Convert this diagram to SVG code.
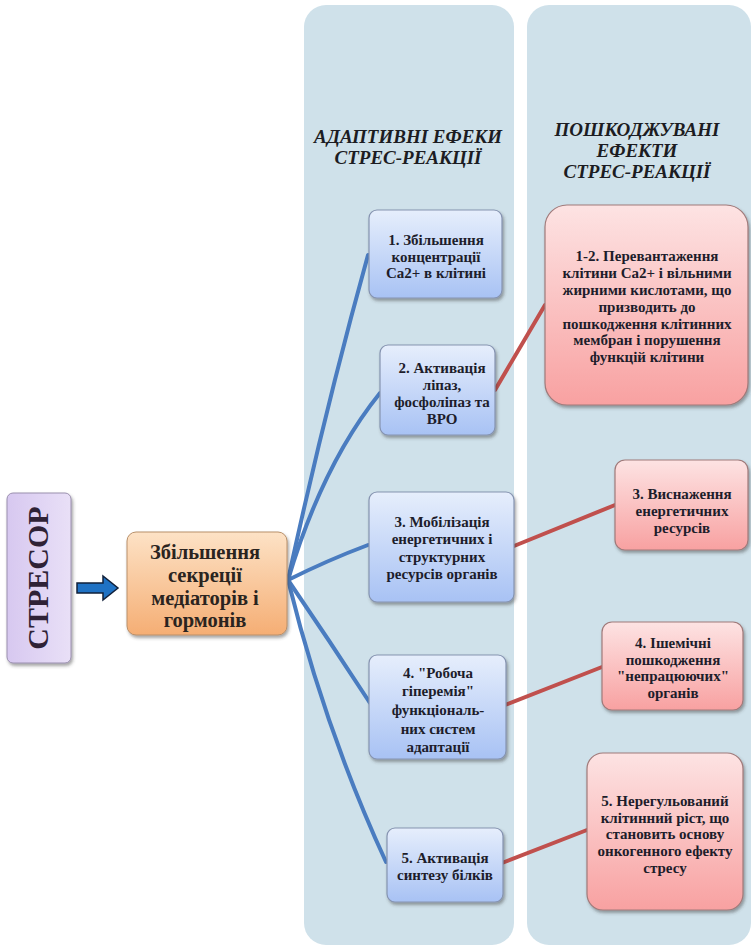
<svg xmlns="http://www.w3.org/2000/svg" width="751" height="946" viewBox="0 0 751 946">
  <defs>
    <linearGradient id="gBlue" x1="0" y1="0" x2="0" y2="1">
      <stop offset="0" stop-color="#e6eefc"/>
      <stop offset="1" stop-color="#a8c2f4"/>
    </linearGradient>
    <linearGradient id="gRed" x1="0" y1="0" x2="0" y2="1">
      <stop offset="0" stop-color="#fde3e3"/>
      <stop offset="1" stop-color="#f8a1a1"/>
    </linearGradient>
    <linearGradient id="gOrange" x1="0" y1="0" x2="0" y2="1">
      <stop offset="0" stop-color="#fde2c6"/>
      <stop offset="1" stop-color="#f5ae74"/>
    </linearGradient>
    <linearGradient id="gPurple" x1="0" y1="0" x2="1" y2="0">
      <stop offset="0" stop-color="#d7c8f0"/>
      <stop offset="1" stop-color="#e9e0f7"/>
    </linearGradient>
    <filter id="shadow" x="-10%" y="-10%" width="125%" height="130%">
      <feDropShadow dx="1.5" dy="2.5" stdDeviation="1.8" flood-color="#3a3a3a" flood-opacity="0.45"/>
    </filter>
  </defs>
  <style>
    .col { fill: #cfe1ea; }
    .title { font-weight: bold; font-style: italic; font-size: 19px; fill: #1c1c22; text-anchor: middle; }
    .txt { font-weight: bold; font-size: 15px; fill: #1d1d2b; text-anchor: middle; }
    .big { font-weight: bold; font-size: 20.5px; fill: #2a2420; text-anchor: middle; }
    .blue { fill: url(#gBlue); stroke: #8593b0; stroke-width: 1.2; filter: url(#shadow); }
    .red { fill: url(#gRed); stroke: #a07a7a; stroke-width: 1.2; filter: url(#shadow); }
    .blink { fill: none; stroke: #4a7cc0; stroke-width: 4; stroke-linecap: round; }
    .rlink { fill: none; stroke: #c0504d; stroke-width: 4; stroke-linecap: round; }
  </style>

  <rect width="751" height="946" fill="#ffffff"/>

  <g font-family="Liberation Serif, DejaVu Serif, serif">
  <!-- background columns -->
  <g id="column-adaptive">
    <rect class="col" x="304" y="5" width="210" height="940" rx="22"/>
    <text class="title" x="408" y="143">АДАПТИВНІ ЕФЕКИ</text>
    <text class="title" x="408" y="164">СТРЕС-РЕАКЦІЇ</text>
  </g>
  <g id="column-damaging">
    <rect class="col" x="527" y="5" width="224" height="940" rx="22"/>
    <text class="title" x="637" y="136">ПОШКОДЖУВАНІ</text>
    <text class="title" x="637" y="157">ЕФЕКТИ</text>
    <text class="title" x="637" y="178">СТРЕС-РЕАКЦІЇ</text>
  </g>

  <!-- connectors -->
  <g id="connectors">
    <path class="blink" d="M288,580 Q325,410 368,255"/>
    <path class="blink" d="M288,580 Q322,465 380,393"/>
    <path class="blink" d="M288,580 Q328,560 368,545"/>
    <path class="blink" d="M288,580 Q329,640 370,703"/>
    <path class="blink" d="M288,580 Q325,730 386,862"/>
    <path class="rlink" d="M495,390 L545,305"/>
    <path class="rlink" d="M514,546 L615,505"/>
    <path class="rlink" d="M505,705 L602,667"/>
    <path class="rlink" d="M502,863 L587,830"/>
    <!-- stressor arrow -->
    <path d="M77,583 L103,583 L103,576 L118,588 L103,600 L103,593 L77,593 Z" fill="#1f72c4" stroke="#10203a" stroke-width="1.5" stroke-linejoin="miter"/>
  </g>

  <!-- stressor -->
  <g id="stressor">
    <rect x="7" y="493" width="64" height="170" rx="6" fill="url(#gPurple)" stroke="#9a8fae" stroke-width="1" filter="url(#shadow)"/>
    <text transform="translate(48,578) rotate(-90)" text-anchor="middle" font-weight="bold" font-size="30" fill="#2f2236">СТРЕСОР</text>
  </g>

  <!-- central response -->
  <g id="secretion">
    <rect x="127" y="532" width="160" height="103" rx="9" fill="url(#gOrange)" stroke="#b9906a" stroke-width="1" filter="url(#shadow)"/>
    <text class="big" x="205" y="559">Збільшення</text>
    <text class="big" x="205" y="582">секреції</text>
    <text class="big" x="205" y="605">медіаторів і</text>
    <text class="big" x="205" y="627">гормонів</text>
  </g>

  <!-- adaptive effects -->
  <g id="adaptive-1">
    <rect class="blue" x="369" y="210" width="133" height="88" rx="8"/>
    <text class="txt" x="436" y="245">1. Збільшення</text>
    <text class="txt" x="436" y="262">концентрації</text>
    <text class="txt" x="436" y="278">Ca2+ в клітині</text>
  </g>
  <g id="adaptive-2">
    <rect class="blue" x="380" y="345" width="115" height="90" rx="8"/>
    <text class="txt" x="442" y="373">2. Активація</text>
    <text class="txt" x="442" y="390">ліпаз,</text>
    <text class="txt" x="442" y="407">фосфоліпаз та</text>
    <text class="txt" x="442" y="424">ВРО</text>
  </g>
  <g id="adaptive-3">
    <rect class="blue" x="369" y="492" width="145" height="110" rx="8"/>
    <text class="txt" x="442" y="527">3. Мобілізація</text>
    <text class="txt" x="442" y="544">енергетичних і</text>
    <text class="txt" x="442" y="562">структурних</text>
    <text class="txt" x="442" y="579">ресурсів органів</text>
  </g>
  <g id="adaptive-4">
    <rect class="blue" x="369" y="655" width="137" height="104" rx="8"/>
    <text class="txt" x="438" y="678">4. "Робоча</text>
    <text class="txt" x="438" y="696">гіперемія"</text>
    <text class="txt" x="438" y="715">функціональ-</text>
    <text class="txt" x="438" y="734">них систем</text>
    <text class="txt" x="438" y="752">адаптації</text>
  </g>
  <g id="adaptive-5">
    <rect class="blue" x="387" y="828" width="116" height="74" rx="8"/>
    <text class="txt" x="445" y="863">5. Активація</text>
    <text class="txt" x="445" y="880">синтезу білків</text>
  </g>

  <!-- damaging effects -->
  <g id="damage-1-2">
    <rect class="red" x="545" y="205" width="203" height="200" rx="22"/>
    <text class="txt" x="647" y="261">1-2. Перевантаження</text>
    <text class="txt" x="647" y="278">клітини Ca2+ і вільними</text>
    <text class="txt" x="647" y="295">жирними кислотами, що</text>
    <text class="txt" x="647" y="312">призводить до</text>
    <text class="txt" x="647" y="329">пошкодження клітинних</text>
    <text class="txt" x="647" y="345">мембран і порушення</text>
    <text class="txt" x="647" y="362">функцій клітини</text>
  </g>
  <g id="damage-3">
    <rect class="red" x="615" y="460" width="133" height="90" rx="10"/>
    <text class="txt" x="682" y="499">3. Виснаження</text>
    <text class="txt" x="682" y="516">енергетичних</text>
    <text class="txt" x="682" y="533">ресурсів</text>
  </g>
  <g id="damage-4">
    <rect class="red" x="602" y="622" width="141" height="88" rx="10"/>
    <text class="txt" x="673" y="648">4. Ішемічні</text>
    <text class="txt" x="673" y="665">пошкодження</text>
    <text class="txt" x="673" y="681">"непрацюючих"</text>
    <text class="txt" x="673" y="698">органів</text>
  </g>
  <g id="damage-5">
    <rect class="red" x="587" y="753" width="156" height="157" rx="16"/>
    <text class="txt" x="665" y="806">5. Нерегульований</text>
    <text class="txt" x="665" y="823">клітинний ріст, що</text>
    <text class="txt" x="665" y="839">становить основу</text>
    <text class="txt" x="665" y="856">онкогенного ефекту</text>
    <text class="txt" x="665" y="873">стресу</text>
  </g>
  </g>
</svg>
